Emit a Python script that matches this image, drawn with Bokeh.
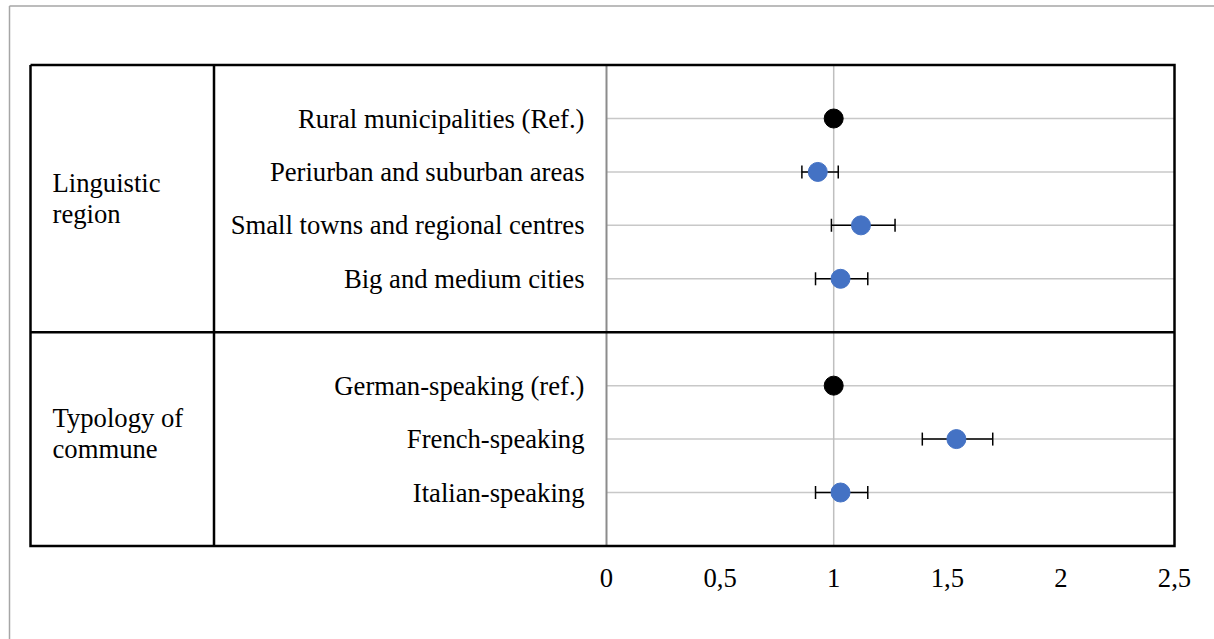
import math

from bokeh.core.properties import value
from bokeh.embed import file_html
from bokeh.models import ColumnDataSource, Range1d
from bokeh.plotting import figure
from bokeh.resources import INLINE

# ---- data -------------------------------------------------------------
row_labels = [
    "Rural municipalities (Ref.)",
    "Periurban and suburban areas",
    "Small towns and regional centres",
    "Big and medium cities",
    "German-speaking (ref.)",
    "French-speaking",
    "Italian-speaking",
]
row_pos = [0, 1, 2, 3, 5, 6, 7]
is_reference = [True, False, False, False, True, False, False]
estimate = [1.00, 0.93, 1.12, 1.03, 1.00, 1.54, 1.03]
ci_lower = [1.00, 0.86, 0.99, 0.92, 1.00, 1.39, 0.92]
ci_upper = [1.00, 1.02, 1.27, 1.15, 1.00, 1.70, 1.15]

group_labels = ["Linguistic\nregion", "Typology of\ncommune"]
group_pos = [1.5, 5.9]

x_ticks = [0, 0.5, 1, 1.5, 2, 2.5]
x_tick_labels = ["0", "0,5", "1", "1,5", "2", "2,5"]

# ---- layout -----------------------------------------------------------
W, H = 1214, 639
X0_PX, PX_PER_UNIT = 606, 227.2       # where x = 0 sits, pixels per unit
Y0_PX, PX_PER_ROW = 118, 53.43        # where row 0 sits, pixels per row

def xd(px):
    return (px - X0_PX) / PX_PER_UNIT

def yd(px):
    return (px - Y0_PX) / PX_PER_ROW

X_MAX = 2.5
BOX_LEFT, BOX_SPLIT = xd(30), xd(213.5)
BOX_TOP, BOX_BOTTOM, GROUP_SPLIT = -1.0, 8.0, 4.0

FONT = value("Liberation Serif")
FONT_SIZE = "26.67px"

p = figure(
    width=W, height=H,
    x_range=Range1d(xd(0), xd(W)),
    y_range=Range1d(yd(H), yd(0)),
    x_axis_location=None, y_axis_location=None,
    toolbar_location=None, output_backend="svg",
    min_border=0, outline_line_color=None,
    background_fill_color="white", border_fill_color="white",
)
p.grid.visible = False

# outer frame of the chart area (left and top edges)
p.segment(x0=[xd(9), xd(9)], y0=[yd(5.5), yd(5.5)],
          x1=[xd(9), xd(W + 5)], y1=[yd(H + 5), yd(5.5)],
          line_color="#a6a6a6", line_width=1.5)

# horizontal gridlines at each row
grid_rows = [r for r in range(8)]
p.segment(x0=[0] * len(grid_rows), x1=[X_MAX] * len(grid_rows),
          y0=grid_rows, y1=grid_rows, line_color="#c8c8c8", line_width=1.5)

# reference line at 1 and the value axis at 0
p.segment(x0=[1], x1=[1], y0=[BOX_TOP], y1=[BOX_BOTTOM],
          line_color="#bfbfbf", line_width=1.5)
p.segment(x0=[0], x1=[0], y0=[BOX_TOP], y1=[BOX_BOTTOM],
          line_color="#8c8c8c", line_width=2)

# confidence intervals
ci_rows = [r for r, ref in zip(row_pos, is_reference) if not ref]
ci_lo = [v for v, ref in zip(ci_lower, is_reference) if not ref]
ci_hi = [v for v, ref in zip(ci_upper, is_reference) if not ref]
p.segment(x0=ci_lo, x1=ci_hi, y0=ci_rows, y1=ci_rows,
          line_color="black", line_width=1.5)
p.scatter(x=ci_lo + ci_hi, y=ci_rows + ci_rows, marker="dash",
          angle=math.pi / 2, size=13, line_color="black", line_width=1.5)

# point estimates
src = ColumnDataSource(dict(
    x=estimate, y=row_pos,
    color=["black" if ref else "#4472c4" for ref in is_reference],
))
p.scatter(x="x", y="y", source=src, size=19, fill_color="color",
          line_color="color")

# table frame
box_lines_x = [
    [BOX_LEFT, X_MAX, X_MAX, BOX_LEFT, BOX_LEFT],
    [BOX_SPLIT, BOX_SPLIT],
    [BOX_LEFT, X_MAX],
]
box_lines_y = [
    [BOX_TOP, BOX_TOP, BOX_BOTTOM, BOX_BOTTOM, BOX_TOP],
    [BOX_TOP, BOX_BOTTOM],
    [GROUP_SPLIT, GROUP_SPLIT],
]
p.multi_line(xs=box_lines_x, ys=box_lines_y, line_color="black",
             line_width=2.5, line_join="miter")

# row labels
p.text(x=[xd(584)] * len(row_labels), y=row_pos, text=row_labels,
       text_font=FONT, text_font_size=FONT_SIZE, text_color="black",
       text_align="right", text_baseline="middle")

# group labels
p.text(x=[xd(52)] * len(group_labels), y=group_pos, text=group_labels,
       text_font=FONT, text_font_size=FONT_SIZE, text_color="black",
       text_align="left", text_baseline="middle", text_line_height=1.04)

# value tick labels
p.text(x=x_ticks, y=[yd(577)] * len(x_ticks), text=x_tick_labels,
       text_font=FONT, text_font_size=FONT_SIZE, text_color="black",
       text_align="center", text_baseline="middle")

open("out.html", "w").write(file_html(p, INLINE))
